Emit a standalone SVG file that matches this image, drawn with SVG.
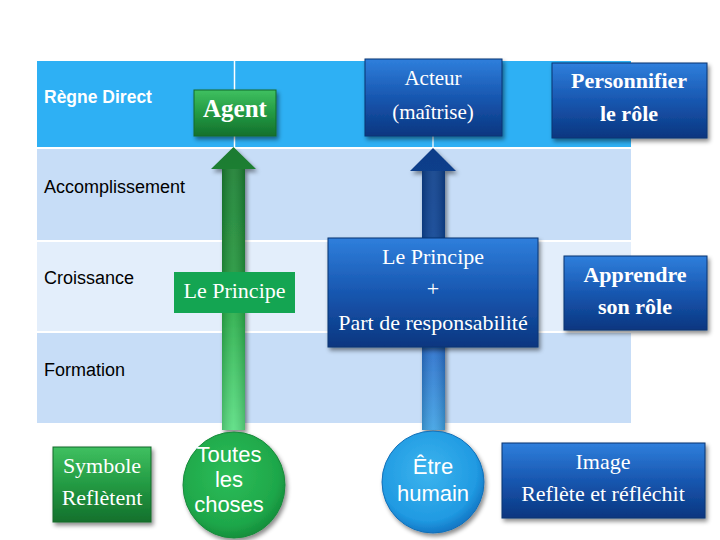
<svg xmlns="http://www.w3.org/2000/svg" width="720" height="540" viewBox="0 0 720 540">
<defs>
<style>
.lbl{font-family:"Liberation Sans",Arial,sans-serif;font-size:18px;fill:#000}
.lblw{font-family:"Liberation Sans",Arial,sans-serif;font-size:17.5px;font-weight:bold;fill:#fff}
.ser{font-family:"Liberation Serif","Times New Roman",serif;font-size:21px;fill:#fff;text-anchor:middle}
.serb{font-family:"Liberation Serif","Times New Roman",serif;font-size:22px;font-weight:bold;fill:#fff;text-anchor:middle}
.san{font-family:"Liberation Sans",Arial,sans-serif;font-size:22px;fill:#fff;text-anchor:middle}
.bbox{fill:url(#gBlue);stroke:#0a3570;stroke-width:1;filter:url(#sh)}
.gbox{fill:url(#gGreen);stroke:#126a2a;stroke-width:1;filter:url(#sh)}
</style>
<linearGradient id="gBlue" x1="0" y1="0" x2="0" y2="1">
<stop offset="0" stop-color="#2f7fdc"/>
<stop offset="0.5" stop-color="#1857b0"/>
<stop offset="1" stop-color="#0a3680"/>
</linearGradient>
<linearGradient id="gGreen" x1="0" y1="0" x2="0" y2="1">
<stop offset="0" stop-color="#3fc060"/>
<stop offset="0.5" stop-color="#239a43"/>
<stop offset="1" stop-color="#14702c"/>
</linearGradient>
<linearGradient id="gGArrow" gradientUnits="userSpaceOnUse" x1="0" y1="147" x2="0" y2="430">
<stop offset="0" stop-color="#1b7a30"/>
<stop offset="0.45" stop-color="#22963c"/>
<stop offset="0.6" stop-color="#2bb04c"/>
<stop offset="1" stop-color="#5ade82"/>
</linearGradient>
<linearGradient id="gBArrow" gradientUnits="userSpaceOnUse" x1="0" y1="147" x2="0" y2="430">
<stop offset="0" stop-color="#0d3d88"/>
<stop offset="0.33" stop-color="#0f4494"/>
<stop offset="0.72" stop-color="#2a70cc"/>
<stop offset="1" stop-color="#3fa2e4"/>
</linearGradient>
<linearGradient id="gShaft" x1="0" y1="0" x2="1" y2="0">
<stop offset="0" stop-color="#000" stop-opacity="0.15"/>
<stop offset="0.5" stop-color="#fff" stop-opacity="0.08"/>
<stop offset="1" stop-color="#000" stop-opacity="0.15"/>
</linearGradient>
<radialGradient id="gGCirc" cx="0.45" cy="0.4" r="0.6">
<stop offset="0" stop-color="#2dbd58"/>
<stop offset="0.8" stop-color="#1ea74a"/>
<stop offset="1" stop-color="#15903c"/>
</radialGradient>
<radialGradient id="gBCirc" cx="0.45" cy="0.4" r="0.6">
<stop offset="0" stop-color="#3cb4ee"/>
<stop offset="0.8" stop-color="#209ae2"/>
<stop offset="1" stop-color="#1478c6"/>
</radialGradient>
<filter id="sh" x="-20%" y="-20%" width="140%" height="150%">
<feDropShadow dx="2" dy="3" stdDeviation="2" flood-color="#000" flood-opacity="0.45"/>
</filter>
</defs>
<rect width="720" height="540" fill="#fff"/>
<g id="table">
<rect x="37" y="61" width="594" height="86" fill="#2eb0f4"/>
<rect x="37" y="149" width="594" height="91" fill="#c7ddf7"/>
<rect x="37" y="242" width="594" height="89" fill="#e3eefb"/>
<rect x="37" y="333" width="594" height="90" fill="#c7ddf7"/>
<line x1="234.5" y1="61" x2="234.5" y2="147" stroke="#fff" stroke-width="1.5"/>
<line x1="433" y1="136" x2="433" y2="147" stroke="#dff3ff" stroke-width="1.5"/>
<text class="lblw" x="44" y="103">Règne Direct</text>
<text class="lbl" x="44" y="193">Accomplissement</text>
<text class="lbl" x="44" y="284">Croissance</text>
<text class="lbl" x="44" y="376">Formation</text>
</g>
<g id="connectors">
<path d="M222,430 L222,169 L211,169 L233.5,147 L256,169 L245,169 L245,430 Z" fill="url(#gGArrow)" filter="url(#sh)"/>
<rect x="222" y="169" width="23" height="261" fill="url(#gShaft)"/>
<path d="M422,430 L422,171 L410,171 L433,148 L456,171 L445,171 L445,430 Z" fill="url(#gBArrow)" filter="url(#sh)"/>
<rect x="422" y="171" width="23" height="259" fill="url(#gShaft)"/>
</g>
<g id="agent">
<rect class="gbox" x="194" y="90" width="82" height="46"/>
<text class="serb" x="235" y="117" style="font-size:25px">Agent</text>
</g>
<g id="acteur">
<rect class="bbox" x="365" y="59" width="137" height="77"/>
<text class="ser" x="433" y="85">Acteur</text>
<text class="ser" x="433" y="119">(maîtrise)</text>
</g>
<g id="personnifier">
<rect class="bbox" x="552" y="63" width="155" height="75"/>
<text class="serb" x="629" y="88">Personnifier</text>
<text class="serb" x="629" y="121">le rôle</text>
</g>
<g id="principe-vert">
<rect x="174" y="272" width="121" height="41" fill="#14a552"/>
<text class="ser" x="234.5" y="298" style="font-size:22px">Le Principe</text>
</g>
<g id="principe-bleu">
<rect class="bbox" x="328" y="238" width="210" height="109"/>
<text class="ser" x="433" y="264" style="font-size:22px">Le Principe</text>
<text class="ser" x="433" y="296" style="font-size:22px">+</text>
<text class="ser" x="433" y="330" style="font-size:22px">Part de responsabilité</text>
</g>
<g id="apprendre">
<rect class="bbox" x="564" y="256" width="143" height="74"/>
<text class="serb" x="635" y="282">Apprendre</text>
<text class="serb" x="635" y="314">son rôle</text>
</g>
<g id="symbole">
<rect class="gbox" x="53" y="447" width="98" height="75"/>
<text class="ser" x="102" y="473" style="font-size:22px">Symbole</text>
<text class="ser" x="102" y="505" style="font-size:22px">Reflètent</text>
</g>
<g id="toutes-les-choses">
<ellipse cx="234" cy="485" rx="51" ry="53" fill="url(#gGCirc)" stroke="#1a8a3c" stroke-width="1" filter="url(#sh)"/>
<text class="san" x="229" y="462">Toutes</text>
<text class="san" x="229" y="487">les</text>
<text class="san" x="229" y="512">choses</text>
</g>
<g id="etre-humain">
<ellipse cx="433" cy="482" rx="51" ry="51" fill="url(#gBCirc)" stroke="#1270b8" stroke-width="1" filter="url(#sh)"/>
<text class="san" x="433" y="474">Être</text>
<text class="san" x="433" y="501">humain</text>
</g>
<g id="image">
<rect class="bbox" x="502" y="443" width="203" height="75"/>
<text class="ser" x="603" y="469" style="font-size:22px">Image</text>
<text class="ser" x="603" y="501" style="font-size:22px">Reflète et réfléchit</text>
</g>
</svg>
